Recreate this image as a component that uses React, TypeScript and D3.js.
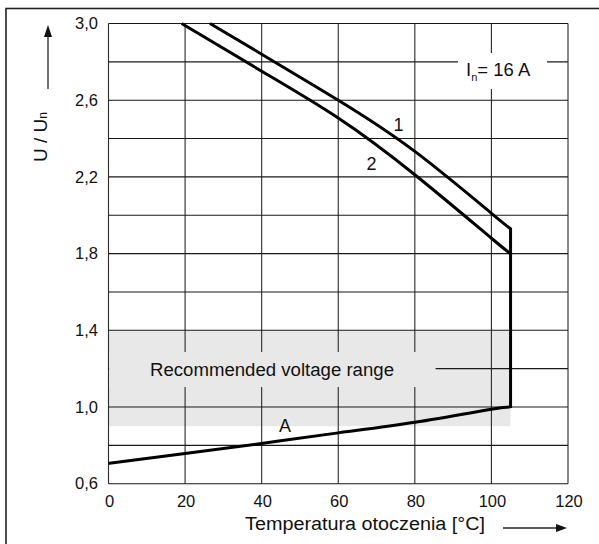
import { useMemo } from 'react';
import { scaleLinear, line, curveNatural, range } from 'd3';

// temperature (°C) vs U / Un
const curve1: [number, number][] = [
  [26.5, 3.0], [40, 2.84], [60, 2.6], [80, 2.333], [100, 2.01], [105, 1.93],
];
const curve2: [number, number][] = [
  [19.1, 3.0], [40, 2.751], [60, 2.507], [80, 2.211], [100, 1.88], [105, 1.8],
];
const curveA: [number, number][] = [
  [0, 0.706], [20, 0.758], [40, 0.81], [60, 0.865], [80, 0.92], [100, 0.988], [105, 1.0],
];
const limitTemp = 105;
const limitTop = 1.93;
const band = { from: 0.9, to: 1.4, tMax: 105 };
const xTicks = [0, 20, 40, 60, 80, 100, 120];
const yTicks = [0.6, 1.0, 1.4, 1.8, 2.2, 2.6, 3.0];

const FONT = '"Liberation Sans", Arial, sans-serif';

const App = () => {
  const left = 108.5;
  const right = 568;
  const top = 23.5;
  const bottom = 483.7;

  const x = useMemo(() => scaleLinear().domain([0, 120]).range([left, right]), []);
  const y = useMemo(() => scaleLinear().domain([0.6, 3.0]).range([bottom, top]), []);

  const path = line<[number, number]>()
    .x((d) => x(d[0]))
    .y((d) => y(d[1]))
    .curve(curveNatural);

  const gridX = range(0, 121, 20);
  const gridY = range(0, 13).map((i) => 0.6 + i * 0.2);

  return (
    <svg
      width={599}
      height={544}
      style={{ position: 'absolute', left: 0, top: 0, background: '#fff' }}
      fontFamily={FONT}
    >
      {/* outer frame */}
      <rect x={6} y={8.5} width={620} height={600} fill="none" stroke="#222" strokeWidth={1.6} />

      {/* recommended range band */}
      <rect
        x={x(0)}
        y={y(band.to)}
        width={x(band.tMax) - x(0)}
        height={y(band.from) - y(band.to)}
        fill="#e8e8e8"
      />

      {/* grid */}
      {gridX.map((t) => (
        <line key={'gx' + t} x1={x(t)} x2={x(t)} y1={top} y2={bottom} stroke="#2a2a2a" strokeWidth={1.1} />
      ))}
      {gridY.map((v, i) => (
        <line key={'gy' + i} x1={left} x2={right} y1={y(v)} y2={y(v)} stroke="#1a1a1a" strokeWidth={1.1} />
      ))}

      {/* label knock-outs */}
      <rect x={left + 0.6} y={352} width={435 - left} height={35} fill="#e8e8e8" />
      <rect x={458} y={53} width={89} height={36} fill="#fff" />

      <text x={150} y={375.5} fontSize={18} textLength={244} lengthAdjust="spacingAndGlyphs" fill="#111">
        Recommended voltage range
      </text>
      <text x={466} y={76} fontSize={18.5} fill="#111">
        I<tspan fontSize={11} dy={5}>n</tspan>
        <tspan dy={-5}>= 16 A</tspan>
      </text>

      {/* curves */}
      <path d={path(curve1) ?? ''} fill="none" stroke="#000" strokeWidth={3} />
      <path d={path(curve2) ?? ''} fill="none" stroke="#000" strokeWidth={3} />
      <path d={path(curveA) ?? ''} fill="none" stroke="#000" strokeWidth={3} />
      <line
        x1={x(limitTemp)}
        x2={x(limitTemp)}
        y1={y(limitTop) - 1}
        y2={y(1.0) + 1}
        stroke="#000"
        strokeWidth={3}
      />

      <text x={398.5} y={131} fontSize={18} textAnchor="middle" fill="#111">1</text>
      <text x={371.5} y={169.5} fontSize={18} textAnchor="middle" fill="#111">2</text>
      <text x={285} y={431.5} fontSize={18} textAnchor="middle" fill="#111">A</text>

      {/* axes ticks */}
      {xTicks.map((t) => (
        <text key={'xt' + t} x={x(t) + 1} y={507} fontSize={16.5} textAnchor="middle" fill="#111">
          {t}
        </text>
      ))}
      {yTicks.map((v) => (
        <text key={'yt' + v} x={98} y={y(v)} dy="0.35em" fontSize={16.5} textAnchor="end" fill="#111">
          {v.toFixed(1).replace('.', ',')}
        </text>
      ))}

      {/* axis titles */}
      <text x={245} y={530} fontSize={18} textLength={240} lengthAdjust="spacingAndGlyphs" fill="#111">
        Temperatura otoczenia [°C]
      </text>
      <line x1={503} x2={558} y1={528} y2={528} stroke="#222" strokeWidth={1.3} />
      <path d="M567,528 L556,524 L556,532 Z" fill="#111" />

      <text transform="translate(47,137) rotate(-90)" fontSize={19} textAnchor="middle" fill="#111">
        U / U<tspan fontSize={12}>n</tspan>
      </text>
      <line x1={48} x2={48} y1={89} y2={35} stroke="#222" strokeWidth={1.3} />
      <path d="M48,25 L44,37 L52,37 Z" fill="#111" />
    </svg>
  );
};

export default App;
